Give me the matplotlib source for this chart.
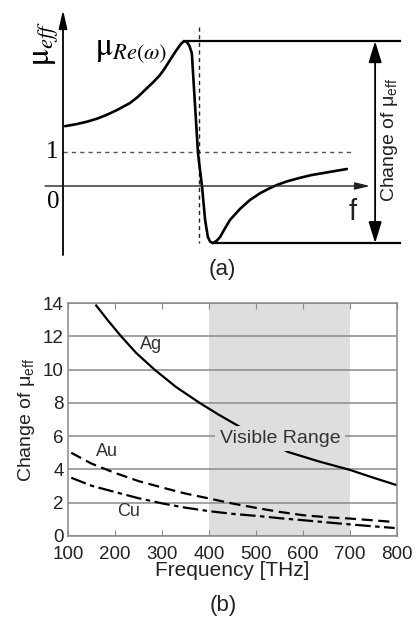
import matplotlib
matplotlib.use("Agg")
import matplotlib.pyplot as plt
import numpy as np

plt.rcParams['font.family'] = ['Liberation Sans', 'DejaVu Sans']
plt.rcParams['mathtext.fontset'] = 'stix'

# ---------------- data: panel (a) schematic ----------------
freq_a = [0.06, 0.40, 0.70, 1.00, 1.28, 1.60, 1.97, 2.20, 2.46, 2.65, 2.85, 3.00,
          3.15, 3.34, 3.47, 3.56, 3.64, 3.72, 3.79, 3.85, 3.91, 3.97, 4.09, 4.18,
          4.26, 4.33, 4.41, 4.52, 4.62, 4.75, 4.91, 5.20, 5.50, 5.80, 6.09, 6.29,
          6.60, 6.97, 7.30, 7.65, 8.00, 8.35]
mu_a = [1.76, 1.82, 1.89, 1.98, 2.09, 2.24, 2.44, 2.62, 2.87, 3.05, 3.26, 3.47,
        3.71, 4.00, 4.18, 4.26, 4.24, 4.12, 3.90, 2.91, 1.94, 0.97, -0.03, -1.00,
        -1.50, -1.64, -1.68, -1.61, -1.50, -1.27, -1.00, -0.68, -0.41, -0.21, -0.06, 0.03,
        0.14, 0.24, 0.32, 0.38, 0.44, 0.50]
f_res = 4.0

# ---------------- data: panel (b) ----------------
ag_f = [160, 185, 213, 245, 284, 330, 380, 420, 465, 568, 635, 700, 750, 800]
ag_v = [13.85, 12.95, 12.0, 11.0, 10.0, 8.95, 8.0, 7.3, 6.57, 5.05, 4.47, 3.97, 3.5, 3.05]
au_f = [107, 150, 199, 250, 302, 350, 401, 450, 508, 550, 600, 650, 699, 750, 795]
au_v = [5.0, 4.35, 3.8, 3.3, 2.9, 2.55, 2.25, 1.95, 1.65, 1.45, 1.25, 1.13, 1.05, 0.94, 0.84]
cu_f = [107, 150, 199, 250, 302, 350, 401, 450, 508, 550, 600, 650, 699, 750, 795]
cu_v = [3.5, 3.02, 2.65, 2.27, 1.95, 1.70, 1.49, 1.33, 1.19, 1.07, 0.95, 0.82, 0.70, 0.58, 0.48]
visible = (400, 700)
x_ticks = [100, 200, 300, 400, 500, 600, 700, 800]
y_ticks = [0, 2, 4, 6, 8, 10, 12, 14]

W, H = 418, 628
fig = plt.figure(figsize=(W / 100, H / 100), dpi=100)

# ================= panel (a) =================
axa = fig.add_axes([0, (H - 290) / H, 1, 290 / H])
axa.set_xlim(-63 / 34, (418 - 63) / 34)
axa.set_ylim((186 - 290) / 34, 186 / 34)
axa.axis('off')

# axes with arrows
axa.annotate('', xy=(0, 5.18), xytext=(0, -2.03),
             arrowprops=dict(arrowstyle='-|>,head_length=1.1,head_width=0.25',
                             color='black', lw=1.3, shrinkA=0, shrinkB=0))
axa.annotate('', xy=(9.03, 0), xytext=(-0.53, 0),
             arrowprops=dict(arrowstyle='-|>,head_length=0.9,head_width=0.22',
                             color='#222222', lw=1.0, shrinkA=0, shrinkB=0))

# dashed guides
axa.plot([0, 8.5], [1, 1], ls=(0, (3, 3)), color='#555555', lw=1.0)
axa.plot([f_res, f_res], [4.68, min(mu_a)], ls=(0, (3, 2.5)), color='#222222', lw=1.0)

# curve
axa.plot(freq_a, mu_a, color='black', lw=1.9, solid_joinstyle='round', solid_capstyle='round')

# peak / min level lines
peak = max(mu_a)
low = min(mu_a)
f_peak = freq_a[int(np.argmax(mu_a))]
f_low = freq_a[int(np.argmin(mu_a))]
axa.plot([f_peak, 9.91], [peak, peak], color='black', lw=1.6)
axa.plot([f_low, 9.91], [low, low], color='black', lw=1.6)

# double arrow
axa.annotate('', xy=(9.18, peak), xytext=(9.18, low),
             arrowprops=dict(arrowstyle='<|-|>,head_length=1.3,head_width=0.4',
                             color='black', lw=1.3, shrinkA=0, shrinkB=0))

axa.text(9.6, 1.35, r'Change of $\mathregular{\mu_{eff}}$', rotation=90,
         ha='center', va='center', fontsize=14, color='#222222')
axa.text(-0.5, 4.2, r'$\mathrm{\mu}_{eff}$', rotation=90, ha='center', va='center', fontsize=23)
axa.text(0.95, 4.0, r'$\mathrm{\mu}_{Re(\omega)}$', ha='left', va='center', fontsize=23)
axa.text(-0.32, 1.0, '1', ha='center', va='center', fontsize=18, family='Liberation Serif')
axa.text(-0.29, -0.47, '0', ha='center', va='center', fontsize=18, family='Liberation Serif')
axa.text(8.53, -0.77, 'f', ha='center', va='center', fontsize=21, color='#222222')
axa.text((222 - 63) / 34, (186 - 270) / 34, '(a)', ha='center', va='center', fontsize=16,
         color='#222222')

# ================= panel (b) =================
axb = fig.add_axes([68 / W, (H - 536) / H, 329 / W, 233 / H])
axb.set_xlim(100, 800)
axb.set_ylim(0, 14)
axb.axvspan(*visible, color='#dedede', zorder=0.2, lw=0)
axb.set_axisbelow(True)
axb.grid(axis='y', color='#8a8a8a', lw=1.1)
for s in axb.spines.values():
    s.set_color('#8a8a8a')
    s.set_linewidth(1.1)
axb.set_xticks(x_ticks)
axb.set_yticks(y_ticks)
axb.tick_params(axis='x', direction='in', top=True, length=4, color='#8a8a8a',
                labelsize=13.5, labelcolor='#222222', pad=7)
axb.tick_params(axis='y', length=0, labelsize=13.5, labelcolor='#222222', pad=3)

axb.plot(ag_f, ag_v, color='black', lw=1.6, zorder=2)
axb.plot(au_f, au_v, color='black', lw=1.6, ls=(0, (5, 2.5)), zorder=2)
axb.plot(cu_f, cu_v, color='black', lw=1.6, ls=(0, (7, 2, 2, 2)), zorder=2)

axb.text(277, 11.5, 'Ag', ha='center', va='center', fontsize=13, color='#333333')
axb.text(182, 5.1, 'Au', ha='center', va='center', fontsize=13, color='#333333')
axb.text(228, 1.45, 'Cu', ha='center', va='center', fontsize=13, color='#333333')
axb.text(551, 5.85, 'Visible Range', ha='center', va='center', fontsize=14, color='#333333',
         zorder=3, bbox=dict(boxstyle='square,pad=0.22', fc='#dedede', ec='none'))

axb.set_xlabel('Frequency [THz]', fontsize=15, color='#222222', labelpad=-1)
axb.set_ylabel(r'Change of $\mathregular{\mu_{eff}}$', fontsize=14, color='#222222', labelpad=4)
fig.text(223 / W, 1 - 605 / H, '(b)', ha='center', va='center', fontsize=16, color='#222222')

fig.savefig('out.png', dpi=100)
